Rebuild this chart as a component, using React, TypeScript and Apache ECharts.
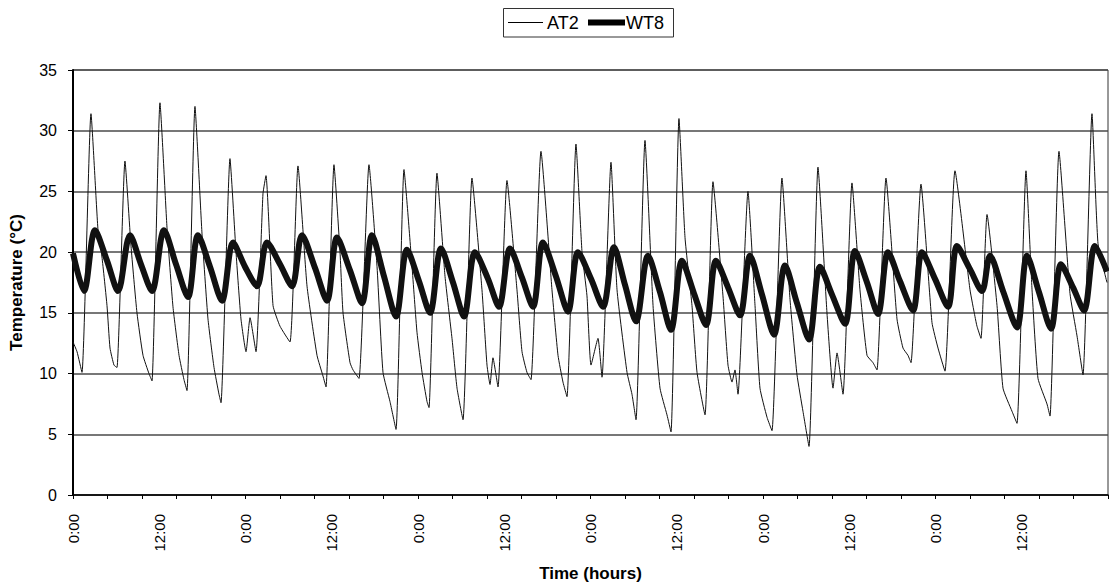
import React, { useEffect, useRef } from "react";
import * as echarts from "echarts";

// Time in hours, temperature in °C
const AT2_TIME = [
  0, 0.56, 1.25, 2.5, 3.48, 4.03, 4.73, 5.15, 5.7, 6.12,
  7.23, 8.07, 8.9, 9.74, 10.57, 10.99,
  12.1, 13.08, 13.91, 14.75, 15.44, 15.86,
  16.97, 17.95, 18.78, 19.62, 20.31, 20.59,
  21.84, 22.68, 23.37, 24.07, 24.63, 25.46,
  26.43, 26.85, 27.83, 28.8, 30.19,
  31.3, 32.56, 33.95, 34.78, 35.2,
  36.31, 37.15, 37.57, 38.54, 38.96, 39.79,
  41.18, 42.3, 43.13, 44.1, 44.94,
  46.05, 47.17, 47.86, 48.56, 49.25, 49.53,
  50.64, 51.76, 52.73, 53.43, 54.26,
  55.51, 56.9, 57.6, 58.02, 58.43, 59.13,
  60.38, 61.77, 62.47, 63.16, 63.72,
  65.11, 66.64, 67.48, 68.17, 68.73,
  69.98, 70.82, 71.51, 72.07, 73.04, 73.6,
  74.85, 75.69, 77.08, 77.77, 78.33,
  79.58, 80.7, 81.67, 82.64, 83.2,
  84.31, 85.15, 86.12, 86.82, 87.93,
  89.04, 90.43, 91.13, 91.69, 92.1, 92.52,
  93.91, 94.89, 95.58, 96.56, 97.25,
  98.64, 99.76, 100.73, 101.56, 102.4,
  103.65, 104.9, 105.74, 106.3, 107.13,
  108.38, 109.49, 110.47, 111.3, 111.86,
  113.11, 114.64, 115.48, 116.17, 116.59,
  117.98, 119.51, 120.35, 121.32,
  122.71, 124.8, 125.49, 125.77, 126.33,
  127.17, 128.56, 129.39, 130.64, 131.34,
  132.59, 133.43, 134.26, 135.51, 135.93,
  137.18, 138.71, 139.69, 140.52,
  141.77, 142.61, 143.86,
];
const AT2_TEMP = [
  12.6, 11.8, 10.1, 31.4, 21.8, 19.6, 15.6, 12.1, 10.7, 10.5,
  27.5, 20.5, 15.0, 11.5, 10.0, 9.4,
  32.3, 22.0, 15.5, 11.5, 9.5, 8.6,
  32.0, 21.5, 14.5, 10.5, 8.3, 7.6,
  27.7, 20.0, 14.5, 11.8, 14.6, 11.8,
  24.8, 26.3, 15.6, 13.9, 12.6,
  27.1, 17.2, 11.5, 9.8, 8.9,
  27.2, 20.0, 15.0, 10.9, 10.3, 9.6,
  27.2, 18.8, 10.1, 7.7, 5.4,
  26.8, 18.8, 13.4, 10.1, 7.7, 7.2,
  26.5, 18.0, 12.9, 8.8, 6.2,
  26.1, 16.9, 10.7, 9.1, 11.3, 8.9,
  25.9, 16.9, 11.8, 10.1, 9.5,
  28.3, 16.9, 11.5, 9.3, 8.1,
  28.9, 20.0, 16.4, 10.7, 12.9, 9.7,
  27.4, 16.9, 10.1, 8.3, 6.2,
  29.2, 15.6, 8.8, 6.6, 5.2,
  31.0, 21.2, 15.6, 10.1, 6.6,
  25.8, 16.4, 10.7, 9.3, 10.3, 8.3,
  25.0, 15.6, 8.8, 6.4, 5.3,
  26.1, 16.1, 9.9, 6.9, 4.0,
  27.0, 15.0, 8.8, 11.7, 8.3,
  25.7, 16.9, 11.5, 10.9, 10.3,
  26.1, 14.5, 12.1, 11.5, 10.9,
  25.6, 14.2, 12.1, 10.2,
  26.7, 16.9, 14.7, 13.9, 12.9,
  23.1, 15.6, 8.8, 6.9, 5.9,
  26.7, 16.9, 9.6, 7.5, 6.5,
  28.3, 16.6, 13.1, 9.9,
  31.4, 20.7, 17.5,
];

const WT8_TIME = [
  0, 1.53, 3.06, 4.73, 6.26, 7.93, 9.46, 10.99, 12.66, 14.33,
  16.0, 17.39, 19.06, 20.73, 22.26, 23.93, 25.6, 26.99, 28.8, 30.47,
  31.86, 33.67, 35.34, 36.73, 38.54, 40.21, 41.6, 43.27, 44.94, 46.47,
  48.14, 49.67, 51.2, 52.87, 54.4, 55.93, 57.74, 59.27, 60.8, 62.47,
  64.0, 65.39, 67.2, 68.87, 70.26, 72.07, 73.74, 75.27, 76.8, 78.33,
  80.0, 81.67, 83.2, 84.73, 86.4, 88.07, 89.46, 91.13, 92.8, 94.19,
  95.86, 97.53, 99.06, 100.73, 102.4, 103.93, 105.6, 107.41, 108.8, 110.47,
  112.0, 113.39, 115.06, 116.87, 118.12, 119.93, 121.74, 122.99, 124.8, 126.47,
  127.58, 129.39, 131.34, 132.73, 134.4, 136.07, 137.46, 139.13, 140.66, 142.19,
  143.86,
];
const WT8_TEMP = [
  19.9, 16.8, 21.8, 19.3, 16.8, 21.4, 19.0, 16.8, 21.8, 19.0,
  16.3, 21.4, 18.8, 16.0, 20.8, 18.8, 17.2, 20.8, 19.0, 17.2,
  21.4, 18.7, 16.0, 21.2, 18.5, 15.8, 21.4, 18.0, 14.7, 20.2,
  17.6, 15.0, 20.3, 17.5, 14.7, 20.0, 17.8, 15.5, 20.3, 17.9,
  15.5, 20.8, 18.0, 15.1, 20.0, 17.8, 15.5, 20.4, 17.3, 14.3,
  19.7, 16.7, 13.6, 19.3, 16.6, 14.0, 19.3, 17.1, 14.8, 19.7,
  16.5, 13.2, 18.9, 15.8, 12.8, 18.8, 16.5, 14.1, 20.1, 17.5,
  14.9, 20.0, 17.6, 15.2, 20.0, 17.8, 15.5, 20.5, 18.6, 16.8,
  19.7, 16.8, 13.8, 19.7, 16.7, 13.7, 19.0, 17.1, 15.2, 20.5,
  18.4,
];

const FONT = "'Liberation Sans', Arial, sans-serif";

export default function App() {
  const ref = useRef<HTMLDivElement>(null);
  useEffect(() => {
    if (!ref.current) return;
    const chart = echarts.init(ref.current, undefined, { renderer: "svg" });
    const at2 = AT2_TIME.map((t, i) => [t, AT2_TEMP[i]]);
    const wt8 = WT8_TIME.map((t, i) => [t, WT8_TEMP[i]]);
    chart.setOption({
      animation: false,
      backgroundColor: "#ffffff",
      textStyle: { fontFamily: FONT },
      graphic: [
        {
          type: "rect",
          shape: { x: 503.5, y: 8.5, width: 170, height: 28.5 },
          style: { fill: "#fff", stroke: "#333", lineWidth: 1 },
          z: 10,
        },
        {
          type: "line",
          shape: { x1: 508, y1: 22.5, x2: 543, y2: 22.5 },
          style: { stroke: "#000", lineWidth: 1 },
          z: 11,
        },
        {
          type: "text",
          x: 547,
          y: 23,
          style: {
            text: "AT2",
            fill: "#000",
            font: "18px 'Liberation Sans', Arial, sans-serif",
            verticalAlign: "middle",
          },
          z: 11,
        },
        {
          type: "line",
          shape: { x1: 588, y1: 22.5, x2: 625, y2: 22.5 },
          style: { stroke: "#000", lineWidth: 6 },
          z: 11,
        },
        {
          type: "text",
          x: 626,
          y: 23,
          style: {
            text: "WT8",
            fill: "#000",
            font: "18px 'Liberation Sans', Arial, sans-serif",
            verticalAlign: "middle",
          },
          z: 11,
        },
      ],
      grid: {
        left: 72,
        right: 1,
        top: 70,
        bottom: 85,
        show: true,
        borderColor: "#333",
        borderWidth: 1,
        backgroundColor: "transparent",
      },
      xAxis: [
        {
          type: "value",
          min: 0,
          max: 144,
          interval: 12,
          position: "bottom",
          axisLine: { show: true, lineStyle: { color: "#000", width: 1.5 } },
          axisTick: { show: false },
          splitLine: { show: false },
          axisLabel: {
            rotate: 90,
            margin: 19,
            fontSize: 15,
            color: "#000",
            fontFamily: FONT,
            showMaxLabel: false,
            formatter: (v: number) => (Math.round(v) % 24 === 0 ? "0:00" : "12:00"),
          },
          name: "Time (hours)",
          nameLocation: "middle",
          nameGap: 70,
          nameTextStyle: { fontSize: 17, fontWeight: "bold", color: "#000", fontFamily: FONT },
        },
        {
          type: "value",
          min: 0,
          max: 144,
          interval: 4.8,
          position: "bottom",
          axisLine: { show: false },
          axisTick: { show: true, length: 4, lineStyle: { color: "#000", width: 1 } },
          axisLabel: { show: false },
          splitLine: { show: false },
        },
      ],
      yAxis: {
        type: "value",
        min: 0,
        max: 35,
        interval: 5,
        axisLine: { show: true, lineStyle: { color: "#000", width: 2 } },
        axisTick: { show: true, length: 5, lineStyle: { color: "#000" } },
        axisLabel: { fontSize: 16, color: "#000", margin: 16, fontFamily: FONT },
        splitLine: { show: true, lineStyle: { color: "#4a4a4a", width: 1.5 } },
        name: "Temperature (°C)",
        nameLocation: "middle",
        nameGap: 48,
        nameTextStyle: { fontSize: 17, fontWeight: "bold", color: "#000", fontFamily: FONT },
      },
      series: [
        {
          name: "AT2",
          type: "line",
          xAxisIndex: 0,
          data: at2,
          symbol: "none",
          smooth: 0.15,
          lineStyle: { color: "#111", width: 1, join: "round" },
          itemStyle: { color: "#111" },
        },
        {
          name: "WT8",
          type: "line",
          xAxisIndex: 0,
          data: wt8,
          symbol: "none",
          smooth: 0.3,
          lineStyle: { color: "#111", width: 6, join: "round" },
          itemStyle: { color: "#111" },
        },
      ],
    });
    return () => chart.dispose();
  }, []);
  return (
    <div
      ref={ref}
      style={{ position: "fixed", left: 0, top: 0, width: 1109, height: 587, background: "#fff" }}
    />
  );
}
